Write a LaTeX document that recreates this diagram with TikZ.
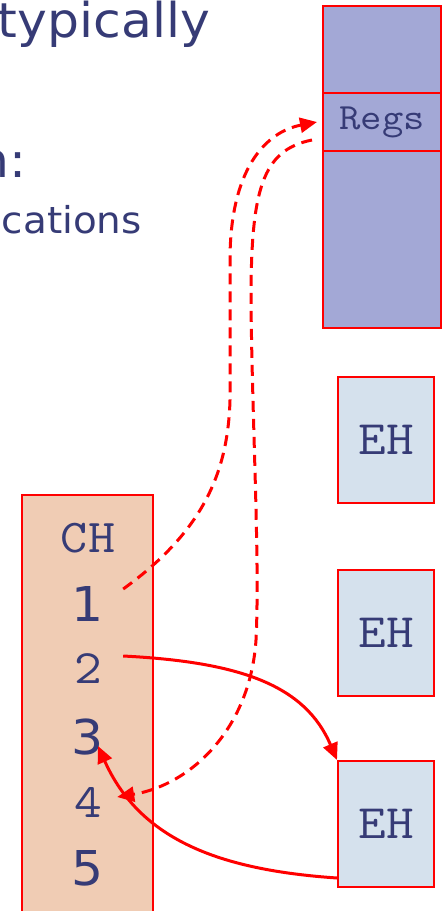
\documentclass[tikz,border=0pt]{standalone}
\usepackage{fontspec}
\setmainfont[FakeStretch=1.05]{DejaVu Sans}
\newfontfamily\codefont[FakeStretch=1.12]{Latin Modern Mono}
\usepackage{tikz}
\usetikzlibrary{arrows.meta}
\usetikzlibrary{positioning}
\definecolor{slideblue}{RGB}{54,59,118}
\definecolor{stackfill}{RGB}{163,168,214}
\definecolor{ehfill}{RGB}{213,225,237}
\definecolor{chfill}{RGB}{240,204,180}
\newcommand \sizedfont [1] {\fontsize{#1}{#1}\selectfont}
\tikzstyle{stack}=[rectangle,draw=red,fill=stackfill,line width=2pt,inner sep=0pt,minimum width=118pt,text=slideblue,font=\codefont\sizedfont{37}]
\tikzstyle{handler}=[rectangle,draw=red,fill=ehfill,line width=2pt,inner sep=0pt,minimum width=96pt,minimum height=126pt,text=slideblue,font=\codefont\sizedfont{48}]
\tikzstyle{chain}=[rectangle,draw=red,fill=chfill,line width=2pt,inner sep=0pt,minimum width=131pt,minimum height=430pt]
\tikzstyle{num}=[inner sep=0pt,minimum width=70pt,text=slideblue,font=\sizedfont{48}]
\tikzstyle{tnum}=[num,font=\codefont\sizedfont{48}]
\tikzstyle{slide}=[inner sep=0pt,text=slideblue,anchor=base east]
\tikzstyle{arrow}=[->,>={Triangle[length=17pt,width=15pt]},red,line width=3pt]
\tikzstyle{darrow}=[arrow,dash pattern=on 11pt off 7pt]

\begin{document}
\begin{tikzpicture}[x=1pt,y=-1pt]
    \useasboundingbox (0,0) rectangle (442,911);
    \node[slide,font=\sizedfont{48}] at (210,37) (line1) {typically};
    \node[slide,font=\sizedfont{48}] at (27,177) (line2) {n:};
    \node[slide,font=\sizedfont{37}] at (142,233) (line3) {cations};
    \node[stack,minimum height=87pt] at (382,49.5) (stacktop) {};
    \node[stack,minimum height=58pt] at (382,122) (regs) {Regs};
    \node[stack,minimum height=177pt] at (382,239.5) (stackbot) {};
    \node[handler] at (386,440) (eh1) {EH};
    \node[handler] at (386,633) (eh2) {EH};
    \node[handler] at (386,824) (eh3) {EH};
    \node[chain] at (87.5,710) (ch) {};
    \node[tnum,font=\codefont\sizedfont{47}] at (88,538) (chname) {CH};
    \node[num] at (88,604) (n1) {1};
    \node[tnum] at (88,669) (n2) {2};
    \node[num] at (88,737) (n3) {3};
    \node[tnum] at (88,802) (n4) {4};
    \node[num] at (88,868) (n5) {5};
    \draw[darrow] ([yshift=15pt]n1.east) .. controls (205,530) and (228,470) .. (230,400)
        -- (230,260) .. controls (230,170) and (265,132) .. ([xshift=-5pt]regs.west);
    \draw[darrow] ([xshift=-10pt,yshift=-18pt]regs.west) .. controls (262,150) and (251,190) .. (251,300)
        .. controls (252,420) and (260,560) .. (256,640)
        .. controls (250,730) and (190,785) .. ([xshift=-6pt,yshift=5pt]n4.east);
    \draw[arrow] ([yshift=13pt]n2.east) .. controls (240,662) and (305,685) .. (eh3.north west);
    \draw[arrow] ([yshift=10pt]eh3.south west) .. controls (220,870) and (140,840) .. ([xshift=10pt,yshift=-9pt]n3.center);
\end{tikzpicture}
\end{document}
